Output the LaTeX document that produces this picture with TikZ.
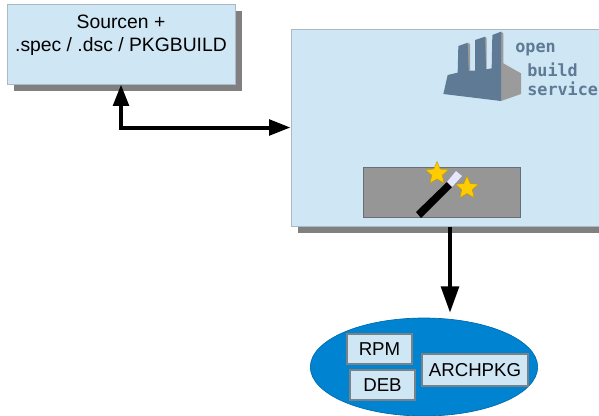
\documentclass[tikz,border=0pt]{standalone}
\usepackage{fontspec}
\setmainfont{Liberation Sans}
\newfontfamily\logofont{DejaVu Sans Mono}
\definecolor{boxblue}{RGB}{207, 231, 245}
\definecolor{boxedge}{RGB}{170, 185, 195}
\definecolor{pkgblue}{RGB}{0, 132, 209}
\definecolor{shadowgray}{RGB}{128, 128, 128}
\definecolor{wandbox}{RGB}{150, 150, 150}
\definecolor{logoblue}{RGB}{95, 122, 148}
\definecolor{logogray}{RGB}{155, 155, 155}
\definecolor{starcolor}{RGB}{255, 204, 0}
\definecolor{wandtip}{RGB}{230, 230, 255}
\usetikzlibrary{positioning, shapes.geometric, arrows.meta, shadows}

\begin{document}
\begin{tikzpicture}[x=0.75pt, y=-0.75pt,
		panel/.style={draw=boxedge, fill=boxblue, line width=0.75pt, inner sep=0pt, drop shadow={shadow xshift=5.25pt, shadow yshift=-5.25pt, fill=shadowgray, opacity=1}},
		package/.style={draw=boxedge!70!black, fill=boxblue, line width=0.9pt, inner sep=0pt, minimum height=22.5pt, font=\fontsize{14}{16}\selectfont},
		wandstar/.style={star, star points=5, star point ratio=2.2, draw=starcolor!75!black, line width=0.3pt, fill=starcolor, minimum size=18pt, inner sep=0pt},
		flow/.style={line width=3pt, {Triangle[length=16pt, width=11.5pt]}-{Triangle[length=16pt, width=11.5pt]}},
		drop/.style={line width=3.6pt, -{Triangle[length=20pt, width=13pt]}},
		logotext/.style={font=\logofont\bfseries\fontsize{12.6}{12.6}\selectfont, text=logoblue, inner sep=0pt, anchor=west}
		]
		\clip (0,0) rectangle (599,415);
		\useasboundingbox (0,0) rectangle (599,415);
		
		\node[panel, minimum width=171pt, minimum height=60pt, align=center, font=\fontsize{14.5}{17.25}\selectfont] (src) at (121,44) {Sourcen +\\ .spec / .dsc / PKGBUILD\\[-1.5pt]~};
		\node[panel, minimum width=240pt, minimum height=147.75pt] (obs) at (451,127.5) {};
		\node[draw=boxedge!60!black, fill=wandbox, line width=0.5pt, minimum width=117.75pt, minimum height=37.5pt, inner sep=0pt, above=6.75pt of obs.south, xshift=-6.75pt] (wandarea) {};
		
		\fill[black] (421,218) -- (416,212) -- (447,182) -- (452,187) -- cycle;
		\fill[wandtip] (452,187) -- (447,182) -- (456,171) -- (462,176) -- cycle;
		\node[wandstar] (star1) at (437,173.5) {};
		\node[wandstar] (star2) at (467,188) {};
		
		% logo
		\begin{scope}[shift={(420,20)}, x=0.25pt, y=-0.25pt]
			\fill[logogray] (243,35) -- (250,40) -- (250,130) -- (303,160) -- (303,222) -- (243,243) -- cycle;
			\fill[logogray] (143,68) -- (150,72) -- (150,152) -- (143,152) -- cycle;
			\fill[logogray] (195,50) -- (200,55) -- (200,148) -- (195,148) -- cycle;
			\fill[logoblue] (70,222) -- (83,165) -- (113,158) -- (115,78) -- (143,68) -- (146,152) -- (165,152) -- (165,60) -- (195,50) -- (198,148) -- (215,145) -- (217,45) -- (243,35) -- (243,243) -- cycle;
		\end{scope}
		\node[logotext] (open) at (515,50) {open};
		\node[logotext] (build) at (527,69.5) {build};
		\node[logotext] (service) at (527,88.5) {service};
		
		\node[ellipse, fill=pkgblue, draw=pkgblue!80!black, line width=0.5pt, minimum width=170.5pt, minimum height=73.5pt, inner sep=0pt] (pkgs) at (424,367) {};
		\node[package, minimum width=48.75pt] (rpm) at (379.5,349) {RPM};
		\node[package, minimum width=48.75pt] (deb) at (382.5,385) {DEB};
		\node[package, minimum width=79.5pt, minimum height=24pt] (arch) at (475,370) {ARCHPKG};
		
		\draw[flow] (src.south) |- (obs.west);
		\draw[drop, shorten >=3.5pt] (obs.south -| 450,0) -- (pkgs.north -| 450,0);
		
	\end{tikzpicture}
\end{document}
